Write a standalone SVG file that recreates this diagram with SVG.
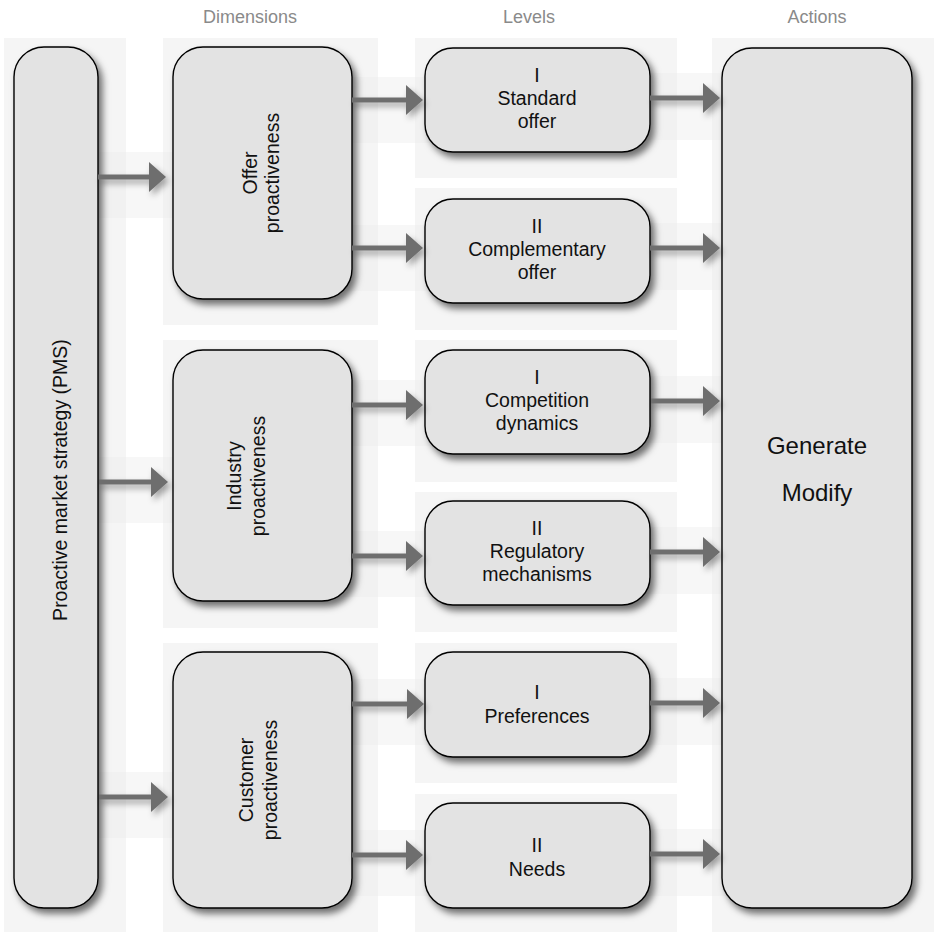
<svg xmlns="http://www.w3.org/2000/svg" width="934" height="932" viewBox="0 0 934 932">
<style>
.panel{fill:#f5f5f5}
.apanel{fill:#eeeeee;opacity:0.45}
.node{fill:#e3e3e3;stroke:#000;stroke-width:1.4;filter:url(#sh)}
.t{font-family:"Liberation Sans",Arial,sans-serif;font-size:19.5px;fill:#111;text-anchor:middle}
.big{font-size:24px}
.hdr{font-family:"Liberation Sans",Arial,sans-serif;font-size:18px;fill:#8a8a8a;text-anchor:middle}
.arr{stroke:#6e6e6e;stroke-width:5;fill:none;marker-end:url(#ah);filter:url(#ash)}
</style>
<defs>
<filter id="sh" filterUnits="userSpaceOnUse" x="0" y="0" width="934" height="932">
<feDropShadow dx="4" dy="5" stdDeviation="3.5" flood-color="#000" flood-opacity="0.55"/>
</filter>
<filter id="ash" filterUnits="userSpaceOnUse" x="0" y="0" width="934" height="932">
<feDropShadow dx="3" dy="4" stdDeviation="3" flood-color="#000" flood-opacity="0.35"/>
</filter>
<marker id="ah" markerUnits="userSpaceOnUse" markerWidth="18" markerHeight="30" refX="0" refY="15" orient="auto">
<path d="M0,0 L17,15 L0,30 Z" fill="#6e6e6e"/>
</marker>
</defs>
<rect width="934" height="932" fill="#fff"/>
<g id="panels">
<rect class="panel" x="4" y="38" width="122" height="894"/>
<rect class="panel" x="163" y="38" width="215" height="287"/>
<rect class="panel" x="163" y="340" width="215" height="288"/>
<rect class="panel" x="163" y="643" width="215" height="289"/>
<rect class="panel" x="415" y="38" width="262" height="140"/>
<rect class="panel" x="415" y="188" width="262" height="142"/>
<rect class="panel" x="415" y="340" width="262" height="142"/>
<rect class="panel" x="415" y="492" width="262" height="140"/>
<rect class="panel" x="415" y="643" width="262" height="140"/>
<rect class="panel" x="415" y="794" width="262" height="138"/>
<rect class="panel" x="712" y="38" width="222" height="894"/>
<rect class="apanel" x="86" y="152" width="106" height="66"/>
<rect class="apanel" x="89" y="457" width="106" height="66"/>
<rect class="apanel" x="89" y="772" width="106" height="66"/>
<rect class="apanel" x="343" y="77" width="106" height="66"/>
<rect class="apanel" x="343" y="225" width="106" height="66"/>
<rect class="apanel" x="343" y="380" width="106" height="66"/>
<rect class="apanel" x="343" y="531" width="106" height="66"/>
<rect class="apanel" x="343" y="679" width="106" height="66"/>
<rect class="apanel" x="343" y="830" width="106" height="66"/>
<rect class="apanel" x="642" y="73" width="105" height="67"/>
<rect class="apanel" x="642" y="223" width="105" height="67"/>
<rect class="apanel" x="642" y="376" width="105" height="67"/>
<rect class="apanel" x="642" y="527" width="105" height="67"/>
<rect class="apanel" x="642" y="678" width="105" height="67"/>
<rect class="apanel" x="642" y="829" width="105" height="67"/>
</g>
<g id="headers">
<text class="hdr" x="250" y="23">Dimensions</text>
<text class="hdr" x="529" y="23">Levels</text>
<text class="hdr" x="817" y="23">Actions</text>
</g>
<g id="pms">
<rect class="node" x="14" y="47" width="84" height="861" rx="30"/>
<text class="t" transform="translate(67,480) rotate(-90)">Proactive market strategy (PMS)</text>
</g>
<g id="offer">
<rect class="node" x="173" y="47" width="179" height="252" rx="30"/>
<text class="t" transform="translate(257,173) rotate(-90)">Offer</text>
<text class="t" transform="translate(279,173) rotate(-90)">proactiveness</text>
</g>
<g id="industry">
<rect class="node" x="173" y="350" width="179" height="251" rx="30"/>
<text class="t" transform="translate(241,476) rotate(-90)">Industry</text>
<text class="t" transform="translate(265,476) rotate(-90)">proactiveness</text>
</g>
<g id="customer">
<rect class="node" x="173" y="652" width="179" height="256" rx="30"/>
<text class="t" transform="translate(253,780) rotate(-90)">Customer</text>
<text class="t" transform="translate(277,780) rotate(-90)">proactiveness</text>
</g>
<g id="standard">
<rect class="node" x="425" y="48" width="225" height="104" rx="28"/>
<text class="t" x="537" y="82">I</text>
<text class="t" x="537" y="105">Standard</text>
<text class="t" x="537" y="128">offer</text>
</g>
<g id="complementary">
<rect class="node" x="425" y="199" width="225" height="104" rx="28"/>
<text class="t" x="537" y="233">II</text>
<text class="t" x="537" y="256">Complementary</text>
<text class="t" x="537" y="279">offer</text>
</g>
<g id="competition">
<rect class="node" x="425" y="350" width="225" height="104" rx="28"/>
<text class="t" x="537" y="384">I</text>
<text class="t" x="537" y="407">Competition</text>
<text class="t" x="537" y="430">dynamics</text>
</g>
<g id="regulatory">
<rect class="node" x="425" y="501" width="225" height="104" rx="28"/>
<text class="t" x="537" y="535">II</text>
<text class="t" x="537" y="558">Regulatory</text>
<text class="t" x="537" y="581">mechanisms</text>
</g>
<g id="preferences">
<rect class="node" x="425" y="652" width="225" height="105" rx="28"/>
<text class="t" x="537" y="699">I</text>
<text class="t" x="537" y="723">Preferences</text>
</g>
<g id="needs">
<rect class="node" x="425" y="803" width="225" height="105" rx="28"/>
<text class="t" x="537" y="852">II</text>
<text class="t" x="537" y="876">Needs</text>
</g>
<g id="actions">
<rect class="node" x="722" y="48" width="190" height="860" rx="30"/>
<text class="t big" x="817" y="454">Generate</text>
<text class="t big" x="817" y="501">Modify</text>
</g>
<g id="connectors">
<line class="arr" x1="98" y1="177" x2="149" y2="177"/>
<line class="arr" x1="99" y1="482" x2="151" y2="482"/>
<line class="arr" x1="99" y1="797" x2="151" y2="797"/>
<line class="arr" x1="352" y1="100" x2="406" y2="100"/>
<line class="arr" x1="352" y1="248" x2="406" y2="248"/>
<line class="arr" x1="352" y1="405" x2="406" y2="405"/>
<line class="arr" x1="352" y1="556" x2="406" y2="556"/>
<line class="arr" x1="352" y1="704" x2="407" y2="704"/>
<line class="arr" x1="352" y1="855" x2="406" y2="855"/>
<line class="arr" x1="650" y1="98" x2="703" y2="98"/>
<line class="arr" x1="650" y1="248" x2="703" y2="248"/>
<line class="arr" x1="651" y1="401" x2="703" y2="401"/>
<line class="arr" x1="650" y1="552" x2="703" y2="552"/>
<line class="arr" x1="650" y1="703" x2="703" y2="703"/>
<line class="arr" x1="650" y1="854" x2="703" y2="854"/>
</g>
</svg>
